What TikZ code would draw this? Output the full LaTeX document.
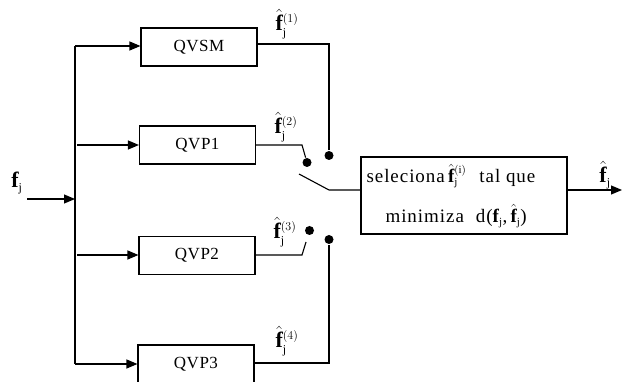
\documentclass[tikz,border=0pt]{standalone}
\usepackage{fix-cm}
\usepackage{fontspec}
\setmainfont{Liberation Serif}
\usetikzlibrary{arrows.meta}
\DeclareMathSizes{22}{22}{12}{10}
\DeclareMathSizes{19}{19}{11}{9}
\newcommand{\fhat}[1]{\hat{\mathbf{f}}_{\mathrm{j}}^{(#1)}}
\begin{document}
\begin{tikzpicture}[x=1pt,y=-1pt,
  line width=1.1pt,
  arr/.style={-{Triangle[length=11pt,width=9pt]}},
  blk/.style={draw,minimum width=116pt,minimum height=38pt,inner sep=0pt,
    font=\fontsize{17}{20}\selectfont\addfontfeature{LetterSpace=3}},
  dot/.style={circle,fill,inner sep=0pt,minimum size=9pt},
  lbl/.style={inner sep=0pt,font=\fontsize{22}{26}\selectfont},
  txt/.style={inner sep=0pt,font=\fontsize{19}{22}\selectfont\addfontfeature{LetterSpace=5}}]
\useasboundingbox (0,0) rectangle (622,382);

% quantizer blocks
\node[blk] (qvsm) at (199,47) {QVSM};
\node[blk] (qvp1) at (197.5,145) {QVP1};
\node[blk] (qvp2) at (197,255.5) {QVP2};
\node[blk] (qvp3) at (196,364) {QVP3};

% selection block
\node[draw,minimum width=206pt,minimum height=77pt,inner sep=0pt] (sel) at (464,195.5) {};
\node[txt,anchor=base west] (selA) at (366,183)
  {seleciona\,$\fhat{\mathrm{i}}$\hspace{13pt}tal que};
\node[txt,anchor=base west] (selB) at (385,223)
  {minimiza\hspace{12pt}d($\mathbf{f}_{\mathrm{j}}$,\,$\hat{\mathbf{f}}_{\mathrm{j}}$)};

% input and distribution bus
\node[lbl] (fin) at (17,183) {$\mathbf{f}_{\mathrm{j}}$};
\coordinate (in) at (27,199);
\coordinate (bin) at (75,199);
\coordinate (btop) at (75,46);
\coordinate (bbot) at (75,364);
\coordinate (b1) at (77,145);
\coordinate (b2) at (77,255);
\draw[arr] (in) -- (bin);
\draw (btop) -- (bbot);
\draw[arr] (btop) -- (qvsm.west |- btop);
\draw[arr] (b1) -- (qvp1.west);
\draw[arr] (b2) -- (qvp2.west |- b2);
\draw[arr] (bbot) -- (qvp3.west);

% switch contacts
\node[dot] (d1) at (329,155.5) {};
\node[dot] (d2) at (307,162.5) {};
\node[dot] (d3) at (309.5,230.5) {};
\node[dot] (d4) at (329,239.5) {};

% quantizer outputs to the contacts
\coordinate (k1) at (302,145);
\coordinate (k2) at (302,255);
\coordinate (k2e) at (306,242);
\draw (qvsm.east |- 0,44) -| (d1);
\draw (qvp1.east) -- (k1) -- (d2);
\draw (qvp2.east |- k2) -- (k2) -- (k2e);
\draw (qvp3.east |- 0,363) -| (d4);

% switch arm into the selector
\coordinate (sw) at (299,174);
\coordinate (sk) at (329,190);
\draw (sw) -- (sk) -- (sel.west |- sk);

% output
\coordinate (out) at (622,190);
\draw[arr] (sel.east |- out) -- (out);

% labels
\node[lbl] (l1) at (287,24) {$\fhat{1}$};
\node[lbl] (l2) at (286,127) {$\fhat{2}$};
\node[lbl] (l3) at (285,232) {$\fhat{3}$};
\node[lbl] (l4) at (287,341) {$\fhat{4}$};
\node[lbl] (lo) at (605,175) {$\hat{\mathbf{f}}_{\mathrm{j}}$};
\end{tikzpicture}
\end{document}
